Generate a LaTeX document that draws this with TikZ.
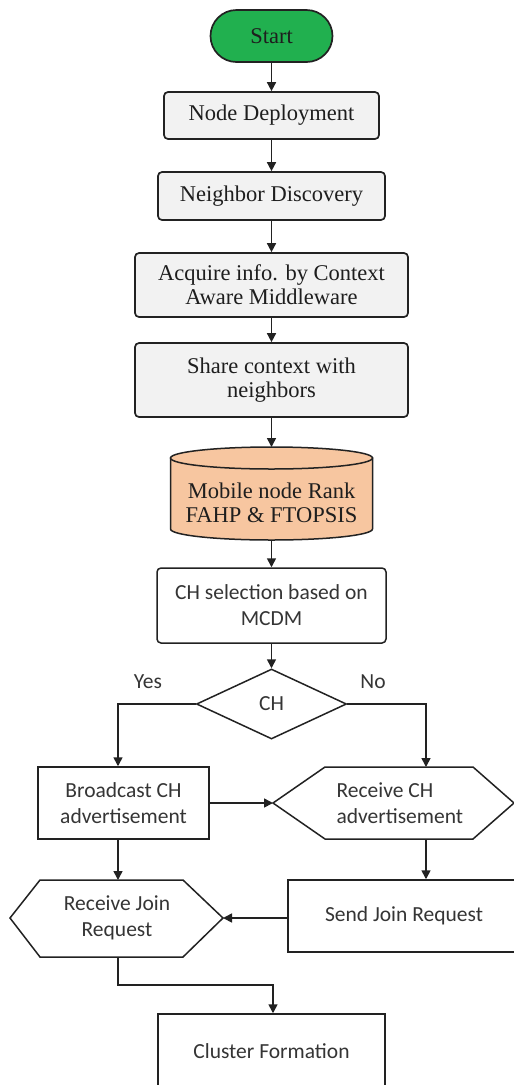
\documentclass[tikz,border=0pt]{standalone}
\usepackage{fontspec}
\setmainfont{Liberation Serif}
\newfontfamily\sansfam{Carlito}
\usetikzlibrary{shapes.geometric,arrows.meta,calc}
\definecolor{startgreen}{HTML}{21B04F}
\definecolor{boxgray}{HTML}{F2F2F2}
\definecolor{peach}{HTML}{F7C6A0}
\definecolor{linec}{HTML}{222222}
\definecolor{textdark}{HTML}{1E1E1E}
\tikzset{
  serif/.style={font=\fontsize{22.5}{24}\selectfont, text=textdark, align=center},
  sanstxt/.style={font=\sansfam\fontsize{21.5}{26}\selectfont, text=textdark!90, align=center},
  procbox/.style={draw=linec, line width=1.7pt, fill=boxgray, rounded corners=4pt, inner sep=0pt, serif},
  plainbox/.style={draw=linec, line width=1.5pt, fill=white, inner sep=0pt, sanstxt},
  outline/.style={draw=linec, line width=1.5pt},
  arr/.style={draw=linec, line width=1.6pt, -{Triangle[length=9pt,width=9pt]}}
}
\begin{document}
\begin{tikzpicture}[x=1pt,y=-1pt]
\useasboundingbox (0,0) rectangle (514,1085);
\fill[white] (0,0) rectangle (514,1085);
\clip (0,0) rectangle (514,1085);

% upper chain of process steps
\node[procbox, fill=startgreen, rounded corners=26pt, minimum width=122pt, minimum height=52pt] (start) at (271.5,36) {Start};
\node[procbox, minimum width=215pt, minimum height=47pt] (nd) at (271.5,115.5) {Node Deployment};
\node[procbox, minimum width=227pt, minimum height=48pt] (nbr) at (271.5,196) {Neighbor Discovery};
\node[procbox, minimum width=273pt, minimum height=64pt] (acq) at (271.5,285) {Acquire info. by Context\\Aware Middleware};
\node[procbox, minimum width=273pt, minimum height=74pt] (share) at (271.5,380) {Share context with\\neighbors};

% ranking database (cylinder)
\filldraw[outline, fill=peach]
  (170.5,458) -- (170.5,529)
  .. controls (170.5,535.1) and (215.7,540) .. (271.5,540)
  .. controls (327.3,540) and (372.5,535.1) .. (372.5,529)
  -- (372.5,458) -- cycle;
\filldraw[outline, fill=peach] (271.5,458) ellipse [x radius=101, y radius=11];
\coordinate (rankTop) at (271.5,447);
\coordinate (rankBot) at (271.5,540);
\node[serif] (rank) at (271.5,503) {Mobile node Rank\\FAHP \& FTOPSIS};

% selection and decision
\node[plainbox, rounded corners=4pt, minimum width=229pt, minimum height=75pt] (chsel) at (271.5,605.5) {CH selection based on\\MCDM};
\node[outline, diamond, aspect=2.14, inner sep=0pt, minimum width=150pt, minimum height=70pt, sanstxt] (dec) at (271.5,704) {CH};
\node[sanstxt] (yes) at (148,682) {Yes};
\node[sanstxt] (no) at (373,682) {No};

% cluster head branch
\node[plainbox, minimum width=171pt, minimum height=72pt] (bc) at (123.5,803) {Broadcast CH\\advertisement};

% receive CH advertisement (hexagon)
\draw[outline] (273,803) -- (325,767) -- (473,767) -- (514,803) -- (473,839) -- (325,839) -- cycle;
\coordinate (rchL) at (273,803);
\coordinate (rchT) at (426,767);
\coordinate (rchB) at (426,839);
\node[sanstxt, align=left, anchor=west] (rch) at (333,803) {Receive CH\\advertisement};

% send join request
\node[plainbox, minimum width=232pt, minimum height=72pt] (sj) at (404,916) {Send Join Request};

% receive join request (hexagon)
\draw[outline] (10,918) -- (40,880) -- (183,880) -- (223,918) -- (183,957) -- (40,957) -- cycle;
\coordinate (rjT) at (118,880);
\coordinate (rjR) at (223,918);
\coordinate (rjB) at (118,957);
\node[sanstxt] (rj) at (117,918) {Receive Join\\Request};

% cluster formation
\node[plainbox, minimum width=227pt, minimum height=74pt] (cf) at (271.5,1051) {Cluster Formation};

% connectors
\draw[arr] (start.south) -- (nd.north);
\draw[arr] (nd.south) -- (nbr.north);
\draw[arr] (nbr.south) -- (acq.north);
\draw[arr] (acq.south) -- (share.north);
\draw[arr] (share.south) -- (rankTop);
\draw[arr] (rankBot) -- (chsel.north);
\draw[arr] (chsel.south) -- (dec.north);
\draw[arr] (dec.west) -| ([xshift=-5.5pt]bc.north);
\draw[arr] (dec.east) -| (rchT);
\draw[arr] (bc.east) -- (rchL);
\draw[arr] ([xshift=-5.5pt]bc.south) -- (rjT);
\draw[arr] (rchB) -- (rchB |- sj.north);
\draw[arr] (rjR -| sj.west) -- (rjR);
\draw[arr] (rjB) -- ++(0,28) -| ([xshift=1.5pt]cf.north);
\end{tikzpicture}
\end{document}
